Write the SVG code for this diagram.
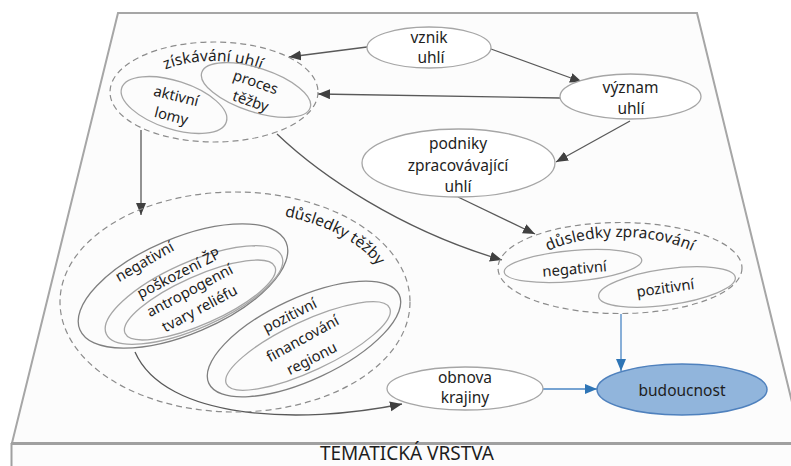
<svg xmlns="http://www.w3.org/2000/svg" width="791" height="466" viewBox="0 0 791 466">
  <defs>
    <marker id="arr" markerUnits="userSpaceOnUse" markerWidth="13" markerHeight="11" refX="12" refY="5" orient="auto">
      <path d="M0,0 L12,5 L0,10 z" fill="#404040"/>
    </marker>
    <marker id="arrBlue" markerUnits="userSpaceOnUse" markerWidth="13" markerHeight="11" refX="12" refY="5" orient="auto">
      <path d="M0,0 L12,5 L0,10 z" fill="#2e75b6"/>
    </marker>
    <path id="arcZiskavani" d="M 143 93 A 70 32 0 0 1 283 93"/>
    <path id="arcTezba" d="M 262 213 A 155 90 0 0 1 388 286"/>
    <path id="arcZpracovani" d="M 520 283.5 A 100 46.5 0 0 1 720 283.5"/>
  </defs>
  <style>
    .plane { fill: #fcfcfc; stroke: #a6a6a6; stroke-width: 2; }
    .node { fill: #ffffff; stroke: #a6a6a6; stroke-width: 1.3; }
    .inner { fill: none; stroke: #a6a6a6; stroke-width: 1.3; }
    .ring { fill: none; stroke: #7f7f7f; stroke-width: 1.3; }
    .group { fill: none; stroke: #8c8c8c; stroke-width: 1.2; stroke-dasharray: 6 4; }
    .focus { fill: #91b5dc; stroke: #4f81bd; stroke-width: 1.5; }
    .edge { fill: none; stroke: #595959; stroke-width: 1.3; marker-end: url(#arr); }
    .edgeBlue { fill: none; stroke: #4a86c5; stroke-width: 1.3; marker-end: url(#arrBlue); }
    text { font-family: "Noto Sans", "Open Sans", sans-serif; fill: #1e1e1e; }
    .lbl { font-size: 15.5px; text-anchor: middle; }
    .sm { font-size: 14.8px; text-anchor: middle; }
    .ttl { font-size: 15.5px; text-anchor: middle; }
  </style>

  <!-- layer plane -->
  <g id="layer">
    <polygon class="plane" points="118,13 697,13 802,443 12,443"/>
    <rect x="12" y="443.5" width="790" height="30" fill="#fcfcfc"/>
    <line x1="11" y1="443.5" x2="791" y2="443.5" stroke="#a0a0a0" stroke-width="3"/>
    <line x1="11.5" y1="443" x2="11.5" y2="466" stroke="#a0a0a0" stroke-width="2"/>
    <text x="407" y="460" font-size="19" text-anchor="middle">TEMATICKÁ VRSTVA</text>
  </g>

  <!-- connectors -->
  <g id="connectors">
    <line class="edge" x1="367" y1="47" x2="289" y2="57"/>
    <line class="edge" x1="491" y1="49" x2="582" y2="82"/>
    <line class="edge" x1="560" y1="98" x2="318" y2="94"/>
    <line class="edge" x1="630" y1="121" x2="556" y2="162"/>
    <line class="edge" x1="458" y1="197" x2="535" y2="234"/>
    <path class="edge" d="M277,134 C320,175 400,230 502,260"/>
    <line class="edge" x1="141" y1="130" x2="141" y2="215"/>
    <path class="edge" d="M135,352 C165,420 300,425 402,404"/>
    <line class="edgeBlue" x1="621" y1="314" x2="621" y2="371"/>
    <line class="edgeBlue" x1="543" y1="389" x2="597" y2="389"/>
  </g>

  <g id="vznik-uhli">
    <ellipse class="node" cx="429" cy="47.5" rx="62" ry="20.5"/>
    <text class="lbl" x="429" y="43">vznik</text>
    <text class="lbl" x="431" y="63">uhlí</text>
  </g>

  <g id="vyznam-uhli">
    <ellipse class="node" cx="630.5" cy="96.5" rx="70.5" ry="22.5"/>
    <text class="lbl" x="630.5" y="93">význam</text>
    <text class="lbl" x="631" y="114">uhlí</text>
  </g>

  <g id="podniky">
    <ellipse class="node" cx="458.5" cy="163" rx="96.5" ry="34"/>
    <text class="lbl" x="458" y="149">podniky</text>
    <text class="lbl" x="458" y="171">zpracovávající</text>
    <text class="lbl" x="458" y="192">uhlí</text>
  </g>

  <g id="ziskavani-uhli">
    <ellipse class="group" cx="214" cy="92" rx="104" ry="50"/>
    <text class="ttl" font-size="16"><textPath href="#arcZiskavani" startOffset="50%">získávání uhlí</textPath></text>
    <ellipse class="inner" cx="174" cy="105" rx="55" ry="24" transform="rotate(18 174 105)"/>
    <text class="sm" transform="translate(175,101) rotate(14)">aktivní</text>
    <text class="sm" transform="translate(170,121) rotate(14)">lomy</text>
    <ellipse class="inner" cx="256" cy="90" rx="57" ry="22" transform="rotate(18 256 90)"/>
    <text class="sm" transform="translate(254,87) rotate(19)">proces</text>
    <text class="sm" transform="translate(249,106) rotate(19)">těžby</text>
  </g>

  <g id="dusledky-tezby">
    <ellipse class="group" cx="235" cy="302" rx="175" ry="110"/>
    <text class="ttl" font-size="14.5"><textPath href="#arcTezba" startOffset="50%">důsledky těžby</textPath></text>
    <ellipse class="ring" cx="183" cy="286" rx="112" ry="48" transform="rotate(-23 183 286)"/>
    <ellipse class="inner" cx="194" cy="295" rx="96" ry="33" transform="rotate(-24 194 295)"/>
    <ellipse class="inner" cx="200" cy="300" rx="82" ry="24" transform="rotate(-24 200 300)"/>
    <text class="sm" transform="translate(147,266) rotate(-30)">negativní</text>
    <text class="sm" transform="translate(181,278) rotate(-27)">poškození ŽP</text>
    <text class="sm" transform="translate(192,295) rotate(-28)">antropogenní</text>
    <text class="sm" transform="translate(202,313) rotate(-28)">tvary reliéfu</text>
    <ellipse class="ring" cx="304" cy="339" rx="105" ry="41" transform="rotate(-25 304 339)"/>
    <ellipse class="inner" cx="308" cy="346" rx="90" ry="25" transform="rotate(-25 308 346)"/>
    <text class="sm" transform="translate(292,320) rotate(-27)">pozitivní</text>
    <text class="sm" transform="translate(305,343) rotate(-29)">financování</text>
    <text class="sm" transform="translate(314,363) rotate(-27)">regionu</text>
  </g>

  <g id="dusledky-zpracovani">
    <ellipse class="group" cx="620" cy="268" rx="122" ry="45.5"/>
    <text class="ttl" font-size="14.5"><textPath href="#arcZpracovani" startOffset="50%">důsledky zpracování</textPath></text>
    <ellipse class="inner" cx="573" cy="266" rx="69" ry="15.5" transform="rotate(-5 573 266)"/>
    <text class="sm" transform="translate(575,274) rotate(-5)">negativní</text>
    <ellipse class="inner" cx="667" cy="287" rx="69" ry="18" transform="rotate(-8 667 287)"/>
    <text class="sm" transform="translate(666,293) rotate(-8)">pozitivní</text>
  </g>

  <g id="obnova-krajiny">
    <ellipse class="node" cx="465" cy="388.5" rx="78" ry="21.5"/>
    <text class="lbl" x="465" y="383">obnova</text>
    <text class="lbl" x="465" y="403">krajiny</text>
  </g>

  <g id="budoucnost">
    <ellipse class="focus" cx="682" cy="389.5" rx="85" ry="25.5"/>
    <text class="lbl" x="682" y="395.5">budoucnost</text>
  </g>
</svg>
